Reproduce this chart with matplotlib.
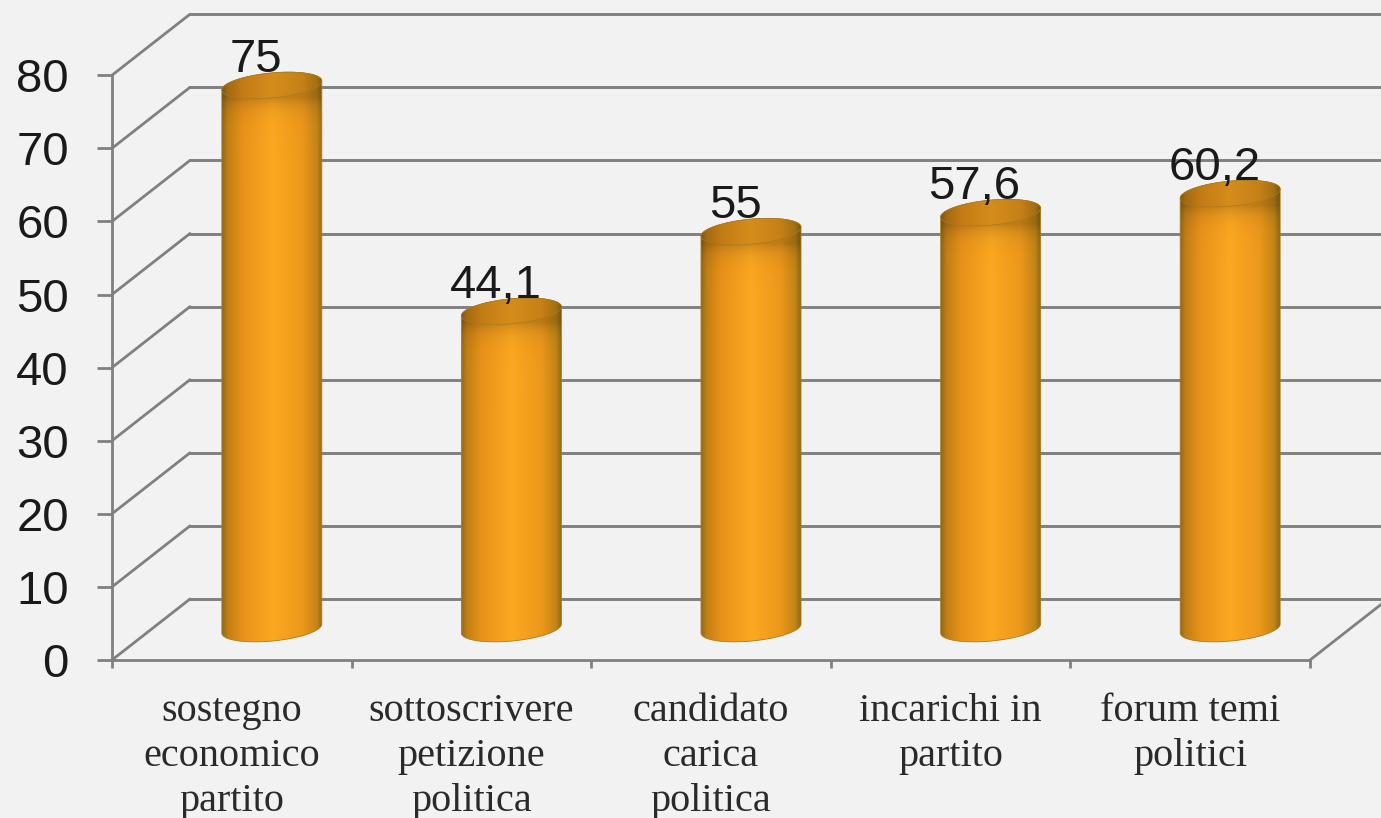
import numpy as np
import matplotlib
matplotlib.use("Agg")
import matplotlib.pyplot as plt
from matplotlib.colors import LinearSegmentedColormap
from matplotlib.patches import Polygon

# data
categories = ["sostegno\neconomico\npartito", "sottoscrivere\npetizione\npolitica",
              "candidato\ncarica\npolitica", "incarichi in\npartito", "forum temi\npolitici"]
values = [75, 44.1, 55, 57.6, 60.2]
labels = ["75", "44,1", "55", "57,6", "60,2"]
yticks = [0, 10, 20, 30, 40, 50, 60, 70, 80]

W, H = 1381, 818
X0, X_STEP = 112, 239.6   # pixel of category 0, pixels per category
Y0, Y_STEP = 660, 7.31    # pixel of value 0, pixels per unit
DX = 78 / X_STEP          # depth of the fake 3d box
DY = 61 / Y_STEP
GRID = "#808080"
BG = "#f2f2f2"

fig = plt.figure(figsize=(W / 100, H / 100), dpi=100, facecolor=BG)
ax = fig.add_axes([0, 0, 1, 1], facecolor=BG)
xlim = (-X0 / X_STEP, (W - X0) / X_STEP)
ylim = ((Y0 - H) / Y_STEP, Y0 / Y_STEP)

n = len(categories)

# walls: back gridlines and diagonals on side wall
for v in yticks:
    ax.plot([0, DX], [v, v + DY], color=GRID, lw=2, zorder=1, solid_capstyle="round")
    ax.plot([DX, n + DX + 1], [v + DY, v + DY], color=GRID, lw=2.1, zorder=1)
ax.plot([n, n + DX], [0, DY], color=GRID, lw=2, zorder=1)

# cylinder shading
shade = LinearSegmentedColormap.from_list("cyl", [
    (0.0, "#94691a"), (0.05, "#c27e14"), (0.2, "#e8921a"), (0.5, "#fda821"),
    (0.8, "#ec981b"), (0.95, "#c28416"), (1.0, "#8f6a18")])
grad = shade(np.linspace(0, 1, 120))[:, :3]

a = 50 / X_STEP
b = 12.5 / Y_STEP
tilt = 4.5 / Y_STEP
off_x = 40 / X_STEP
off_lo = 4.3
off_hi = 3.6


def ring(cx, cy, t):
    # left side of the ellipse sits lower than the right side
    return np.column_stack([cx + a * np.cos(t), cy + b * np.sin(t) + tilt * np.cos(t)])


for i, v in enumerate(values):
    cx = i + 0.5 + off_x
    lo, hi = off_lo, v + off_hi
    body = np.vstack([ring(cx, lo, np.linspace(np.pi, 2 * np.pi, 60)),
                      ring(cx, hi, np.linspace(0, np.pi, 60))])
    clip = Polygon(body, closed=True, facecolor="none", edgecolor="#a87c20", lw=0.6, zorder=4)
    ax.add_patch(clip)

    # vertical part of the shading, dark just under the lid, warmer at the foot
    rows = 300
    ys = np.linspace(hi + 3, lo - 3, rows)
    depth_px = (hi - ys) * Y_STEP
    f = 1 - 0.2 * np.exp(-np.clip(depth_px - 12, 0, None) / 10)
    img = grad[None, :, :] * f[:, None, None]
    im = ax.imshow(img, extent=[cx - a, cx + a, lo - 3, hi + 3], aspect="auto", zorder=3)
    im.set_clip_path(clip)

    lid = Polygon(ring(cx, hi, np.linspace(0, 2 * np.pi, 120)), closed=True,
                  facecolor="none", edgecolor="#a87c20", lw=0.5, zorder=6)
    ax.add_patch(lid)
    lid_im = ax.imshow(grad[None, :, :] * 0.84, extent=[cx - a, cx + a, hi - 3, hi + 3],
                       aspect="auto", zorder=5)
    lid_im.set_clip_path(lid)

    ax.text(cx - 16 / X_STEP, v + 40 / Y_STEP, labels[i], ha="center", va="baseline",
            fontsize=34, family="Liberation Sans", color="#1a1a1a", zorder=7)

ax.set_xlim(xlim)
ax.set_ylim(ylim)

# front axes
for s in ("top", "right"):
    ax.spines[s].set_visible(False)
ax.spines["left"].set_position(("data", 0))
ax.spines["bottom"].set_position(("data", 0))
ax.spines["left"].set_bounds(0, 80)
ax.spines["bottom"].set_bounds(0, n)
for s in ("left", "bottom"):
    ax.spines[s].set_color(GRID)
    ax.spines[s].set_linewidth(2)

ax.set_yticks(yticks)
ax.tick_params(axis="y", length=11, width=2, color=GRID, pad=20, labelsize=34, labelcolor="#1a1a1a")
for t in ax.get_yticklabels():
    t.set_family("Liberation Sans")

ax.set_xticks(range(n + 1))
ax.set_xticklabels([])
ax.tick_params(axis="x", which="major", length=6, width=2, color=GRID)
ax.set_xticks(np.arange(n) + 0.5, minor=True)
ax.set_xticklabels(categories, minor=True)
ax.tick_params(axis="x", which="minor", length=0, pad=24, labelsize=29, labelcolor="#2a2a2a")
for t in ax.get_xticklabels(minor=True):
    t.set_family("Liberation Serif")
    t.set_linespacing(1.28)

fig.savefig("out.png", dpi=100, facecolor=BG)
